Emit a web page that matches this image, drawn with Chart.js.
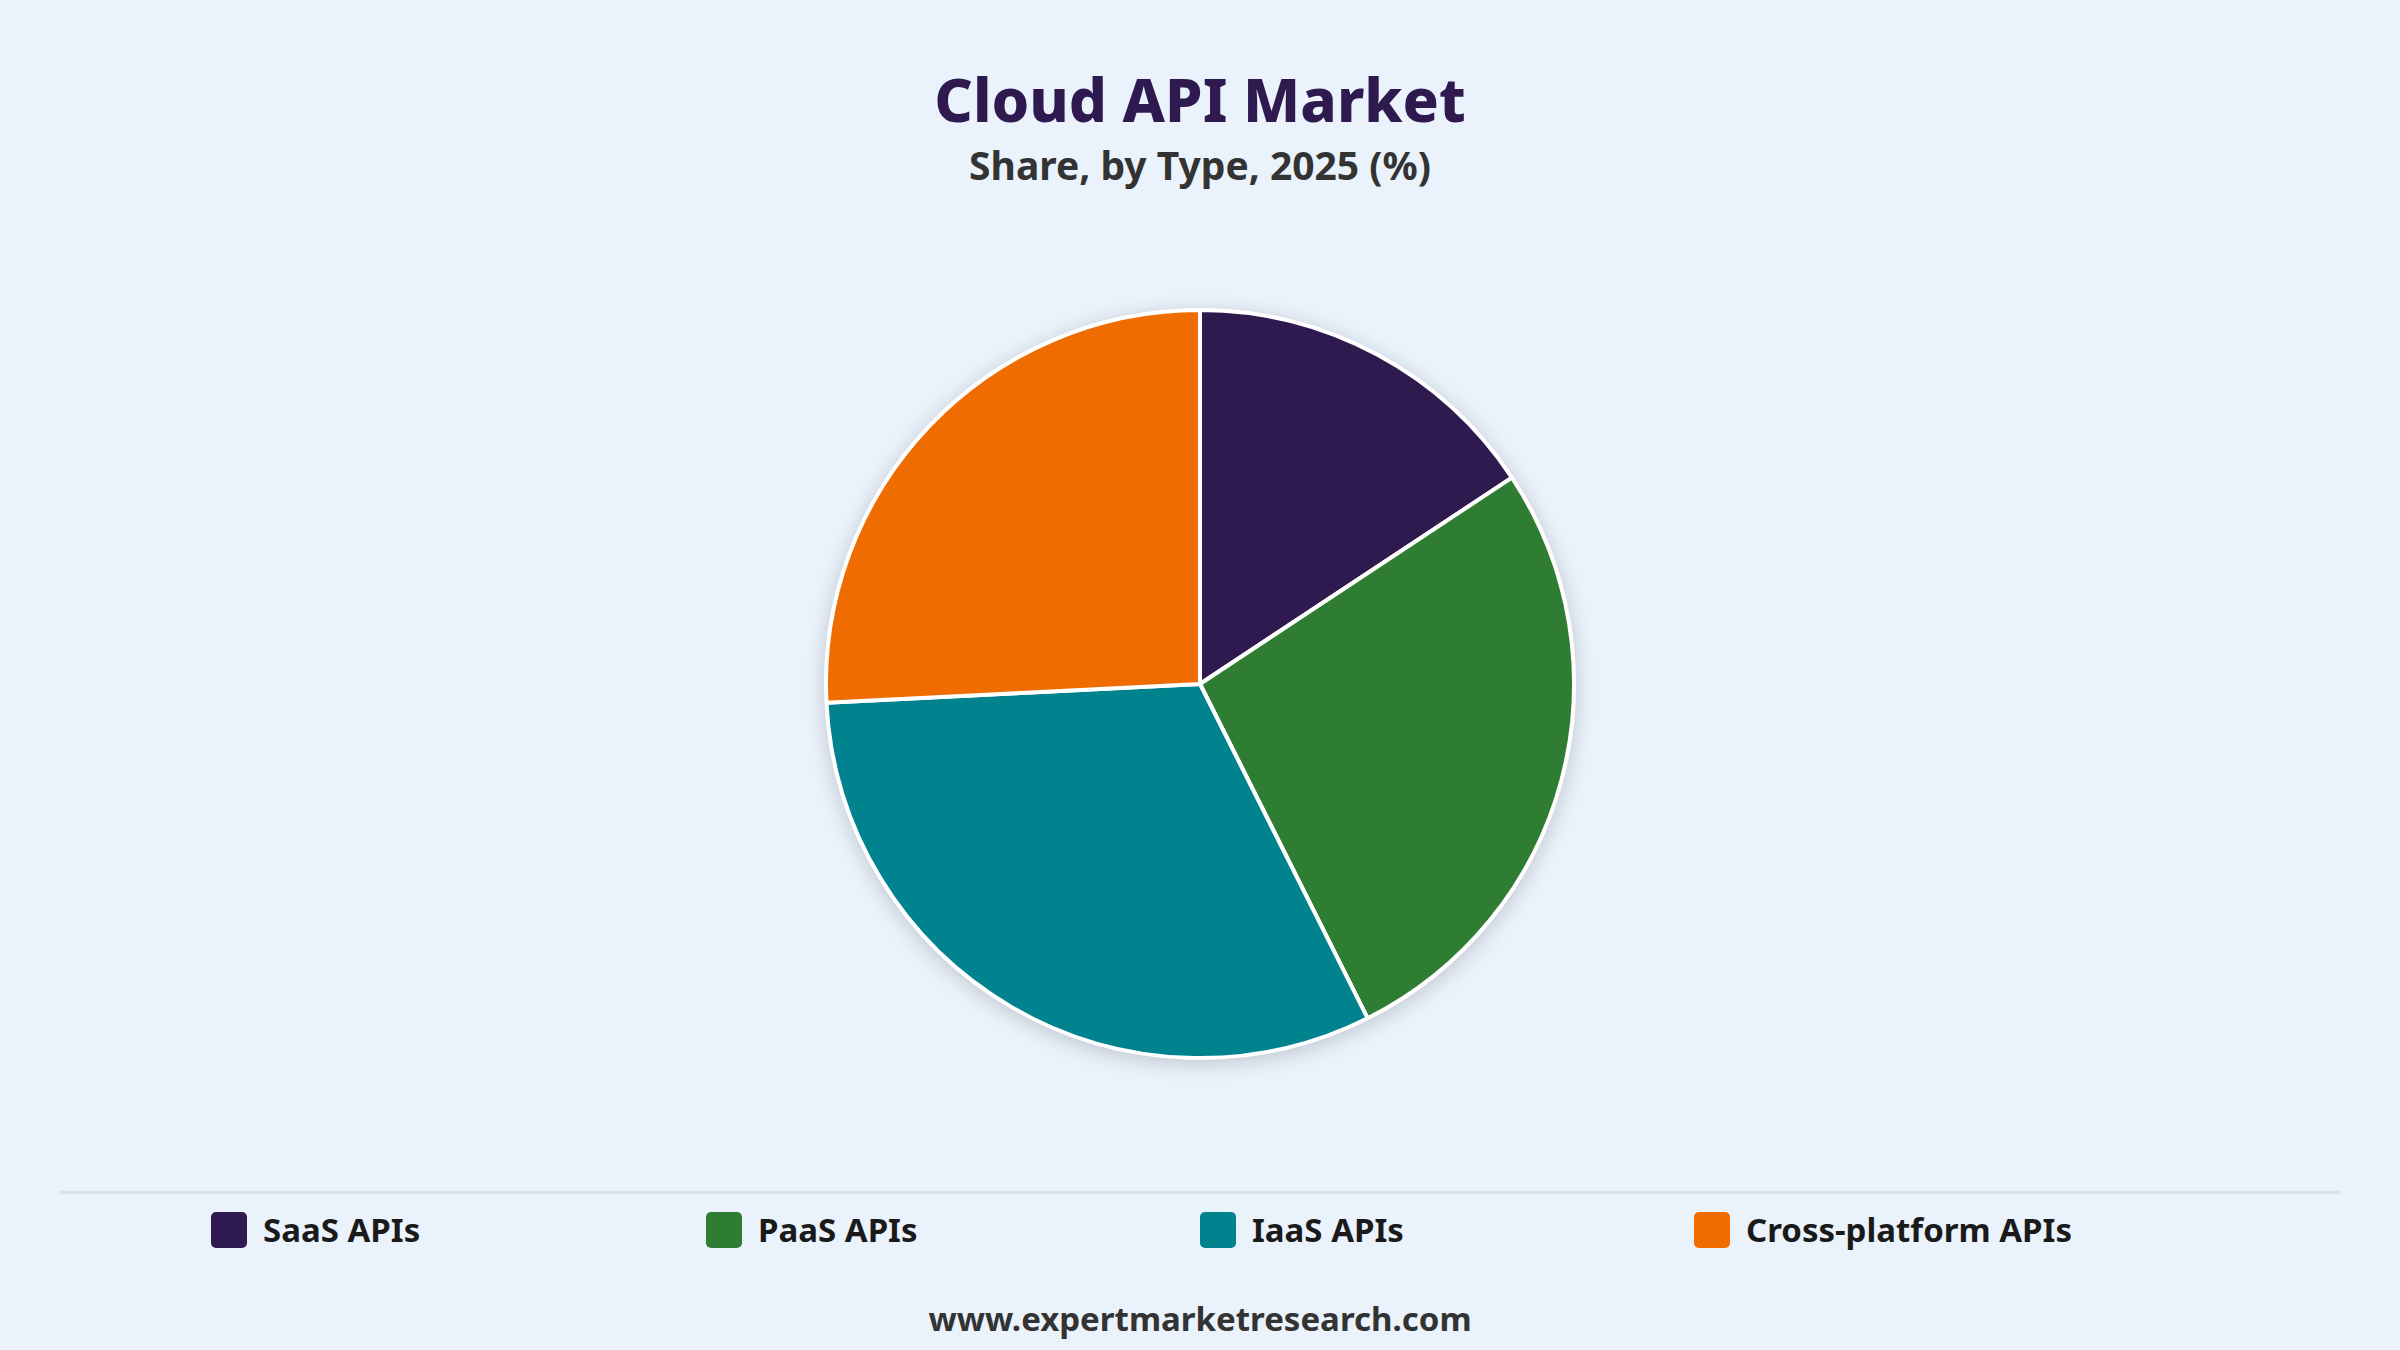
<!DOCTYPE html>
<html>
<head>
<meta charset="utf-8">
<script src="https://cdn.jsdelivr.net/npm/chart.js@4"></script>
<style>
    body { margin: 0; width: 2400px; height: 1350px; background: #eaf2fc; font-family: "Noto Sans", "Open Sans", sans-serif; position: relative; overflow: hidden; }
    #title { position: absolute; top: 58px; width: 100%; text-align: center; font-size: 60px; font-weight: 800; color: #2e1a4f; }
    #subtitle { position: absolute; top: 138px; width: 100%; text-align: center; font-size: 39px; font-weight: 700; color: #333; }
    #pieBox { position: absolute; left: 800px; top: 284px; filter: drop-shadow(0 4px 10px rgba(0,0,0,0.18)); }
    #rule { position: absolute; left: 60px; width: 2280px; top: 1191px; height: 3px; background: #dcdfe4; }
    #legend { position: absolute; top: 1207px; left: 0; width: 100%; }
    .item { position: absolute; display: flex; align-items: center; font-size: 33px; font-weight: 700; color: #1a1a1a; }
    .box { width: 36px; height: 36px; border-radius: 5px; margin-right: 16px; }
    #footer { position: absolute; top: 1296px; width: 100%; text-align: center; font-size: 33px; font-weight: 700; color: #333; }
</style>
</head>
<body>
<div id="title">Cloud API Market</div>
<div id="subtitle">Share, by Type, 2025 (%)</div>
<div id="pieBox"><canvas id="pie" width="800" height="800"></canvas></div>
<div id="rule"></div>
<div id="legend"></div>
<div id="footer">www.expertmarketresearch.com</div>
<script>
const categories = ['SaaS APIs', 'PaaS APIs', 'IaaS APIs', 'Cross-platform APIs'];
const shares = [15.7, 26.9, 31.6, 25.8];
const colors = ['#2e1a4f', '#2f7d32', '#00838f', '#ef6c00'];
const legendX = [211, 706, 1200, 1694];

// legend
categories.forEach(function (name, i) {
    const item = document.createElement('div');
    item.className = 'item';
    item.style.left = legendX[i] + 'px';
    item.innerHTML = '<div class="box" style="background:' + colors[i] + '"></div>' + name;
    document.getElementById('legend').appendChild(item);
});

const ctx = document.getElementById('pie').getContext('2d');
new Chart(ctx, {
    type: 'pie',
    data: {
        labels: categories,
        datasets: [{
            data: shares,
            backgroundColor: colors,
            borderColor: '#ffffff',
            borderWidth: 4
        }]
    },
    options: {
        responsive: false,
        animation: false,
        devicePixelRatio: 1,
        layout: { padding: 24 },
        plugins: {
            legend: { display: false },
            tooltip: { enabled: false }
        }
    }
});
</script>
</body>
</html>
